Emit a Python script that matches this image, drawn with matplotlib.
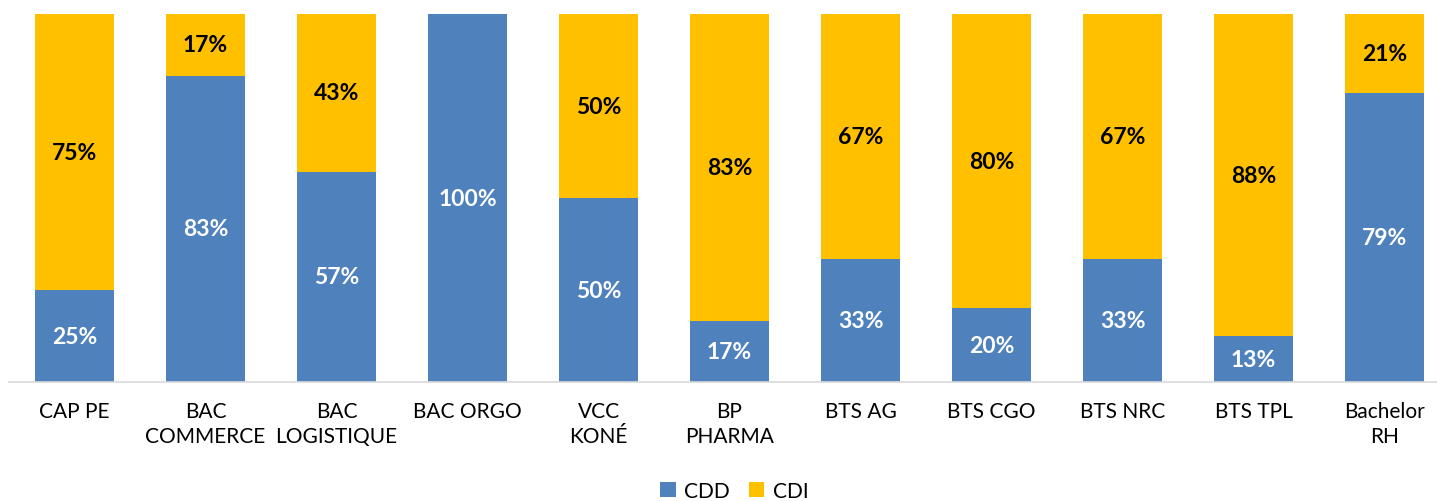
import numpy as np
import matplotlib.pyplot as plt

# Data (share of contract type per course, in %)
categories = ["CAP PE", "BAC\nCOMMERCE", "BAC\nLOGISTIQUE", "BAC ORGO", "VCC\nKONÉ",
              "BP\nPHARMA", "BTS AG", "BTS CGO", "BTS NRC", "BTS TPL", "Bachelor\nRH"]
cdd = [25.0, 83.3, 57.1, 100.0, 50.0, 16.7, 33.3, 20.0, 33.3, 12.5, 78.6]
cdi = [75.0, 16.7, 42.9, 0.0, 50.0, 83.3, 66.7, 80.0, 66.7, 87.5, 21.4]

BLUE = "#4F81BD"
YELLOW = "#FFC000"

plt.rcParams["font.family"] = ["Lato", "DejaVu Sans"]

fig = plt.figure(figsize=(14.37, 5.02), dpi=100)
# the plot area runs slightly past the right edge, like the original
ax = fig.add_axes([9 / 1437, 0.237, 1441 / 1437, 0.733])

x = np.arange(len(categories))
width = 0.60

bars_cdd = ax.bar(x, cdd, width, color=BLUE, label="CDD")
bars_cdi = ax.bar(x, cdi, width, bottom=cdd, color=YELLOW, label="CDI")


def pct(v):
    return f"{int(v + 0.5)}%"


for i in range(len(categories)):
    if cdd[i] > 0:
        ax.text(x[i], cdd[i] / 2, pct(cdd[i]), ha="center", va="center",
                color="white", fontsize=16.5, fontweight="bold")
    if cdi[i] > 0:
        ax.text(x[i], cdd[i] + cdi[i] / 2, pct(cdi[i]), ha="center", va="center",
                color="black", fontsize=16.5, fontweight="bold")

ax.set_xlim(-0.5, len(categories) - 0.5)
ax.set_ylim(0, 100)
ax.set_yticks([])
ax.set_xticks(x)
ax.set_xticklabels(categories, fontsize=15, linespacing=1.3)
ax.tick_params(axis="x", length=0, pad=14)

for side in ["top", "left", "right"]:
    ax.spines[side].set_visible(False)
ax.spines["bottom"].set_color("#D9D9D9")
ax.spines["bottom"].set_linewidth(1.2)

fig.legend(handles=[bars_cdd, bars_cdi], labels=["CDD", "CDI"], loc="center",
           bbox_to_anchor=(0.511, 0.02), ncol=2, frameon=False, fontsize=15,
           handlelength=0.75, handleheight=0.75, handletextpad=0.4, columnspacing=0.9)

fig.savefig("out.png", dpi=100)
